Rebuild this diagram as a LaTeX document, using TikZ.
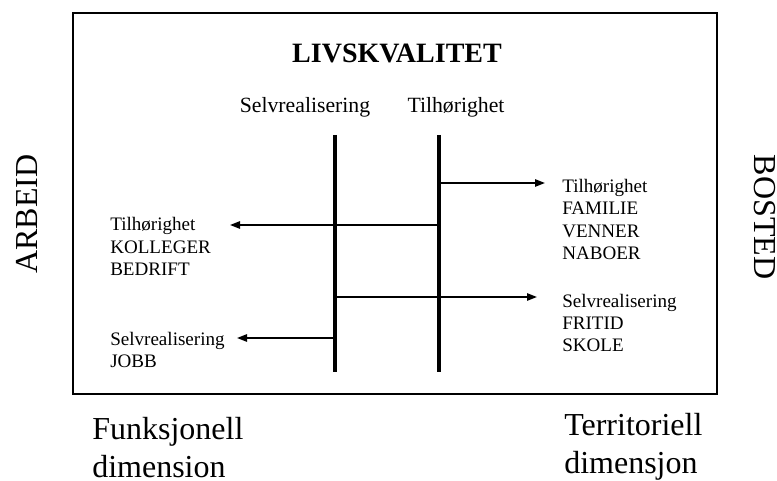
\documentclass[tikz,border=0pt]{standalone}
\usepackage{fontspec}
\setmainfont{Liberation Serif}
\usetikzlibrary{arrows.meta}
\begin{document}
\begin{tikzpicture}[x=0.75pt,y=-0.75pt,
  frame/.style={line width=1.1pt},
  pillar/.style={line width=3pt},
  arr/.style={line width=1.2pt,-{Triangle[length=7.5pt,width=5.5pt]}},
  titletxt/.style={inner sep=0pt,font=\fontsize{21}{25}\selectfont\bfseries},
  headtxt/.style={inner sep=0pt,font=\fontsize{16.3}{20}\selectfont},
  smalltxt/.style={inner sep=0pt,align=left,anchor=north west,font=\fontsize{14.3}{16.6}\selectfont},
  bigtxt/.style={inner sep=0pt,font=\fontsize{24}{28.5}\selectfont},
  bigblock/.style={bigtxt,align=left,anchor=north west}]
\useasboundingbox (0,0) rectangle (777,481);
% frame
\draw[frame] (73,13) rectangle (717,394);
% title and headers
\node[titletxt] (title) at (397,53) {LIVSKVALITET};
\node[headtxt,anchor=base] (hself) at (305,113) {Selvrealisering};
\node[headtxt,anchor=base] (htilh) at (456,113) {Tilhørighet};
% pillars
\coordinate (s1) at (335,135);
\coordinate (s2) at (335,372);
\coordinate (t1) at (439,135);
\coordinate (t2) at (439,372);
\draw[pillar] (s1) -- (s2);
\draw[pillar] (t1) -- (t2);
% arrow start points on pillars and free ends
\coordinate (ta) at (439,183);
\coordinate (tb) at (439,225);
\coordinate (sa) at (335,297);
\coordinate (sb) at (335,338);
\coordinate (ea) at (545,183);
\coordinate (eb) at (230,225);
\coordinate (ec) at (537,297);
\coordinate (ed) at (237,338);
\draw[arr] (ta) -- (ea);
\draw[arr] (tb) -- (eb);
\draw[arr] (sa) -- (ec);
\draw[arr] (sb) -- (ed);
% text groups
\node[smalltxt] (lg1) at (110,217.5) {Tilhørighet\\KOLLEGER\\BEDRIFT};
\node[smalltxt] (lg2) at (110,332) {Selvrealisering\\JOBB};
\node[smalltxt] (rg1) at (562,179.3) {Tilhørighet\\FAMILIE\\VENNER\\NABOER};
\node[smalltxt] (rg2) at (562,293.7) {Selvrealisering\\FRITID\\SKOLE};
% side labels
\node[bigtxt,rotate=90] (arbeid) at (27,214) {ARBEID};
\node[bigtxt,rotate=-90] (bosted) at (765,217) {BOSTED};
% bottom labels
\node[bigblock] (funk) at (92,417) {Funksjonell\\dimension};
\node[bigblock] (terr) at (564,413) {Territoriell\\dimensjon};
\end{tikzpicture}
\end{document}
